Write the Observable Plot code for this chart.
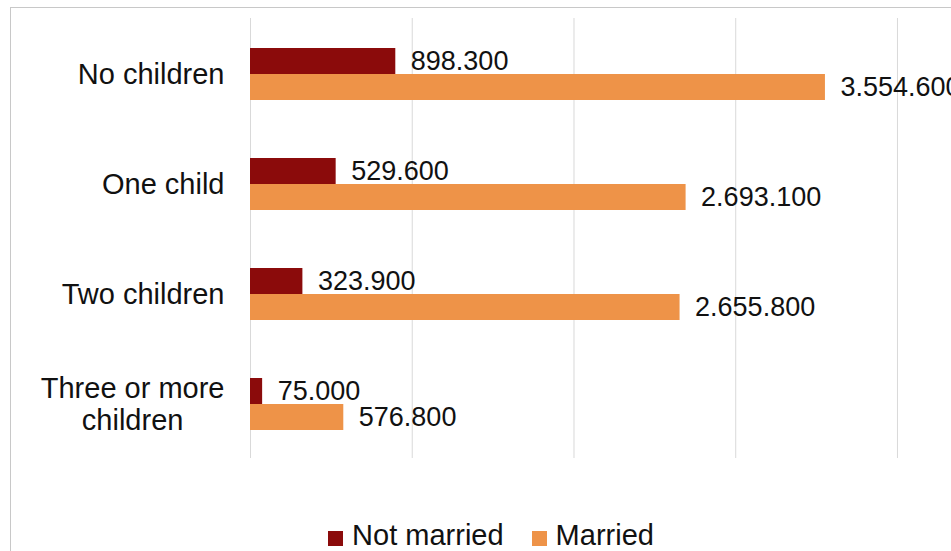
<!DOCTYPE html>
<html>
<head>
<meta charset="utf-8">
<script src="https://cdn.jsdelivr.net/npm/d3@7"></script>
<script src="https://cdn.jsdelivr.net/npm/@observablehq/plot@0.6"></script>
<style>
  html, body { margin: 0; padding: 0; background: #fff; }
  #wrap { position: relative; width: 951px; height: 551px; overflow: hidden; font-family: "Liberation Sans", Arial, sans-serif; }
  #frame { position: absolute; left: 10px; top: 7px; width: 1200px; height: 800px; border: 1px solid #c8c8c8; box-sizing: border-box; }
  #chart { position: absolute; left: 0; top: 0; }
  #legend { position: absolute; left: 0; top: 519px; width: 951px; height: 32px; padding-left: 31px; box-sizing: border-box;
            text-align: center; font-size: 29px; line-height: 32px; color: #111; white-space: nowrap; }
  .item { display: inline-block; margin: 0 14px; }
  .sw { display: inline-block; width: 15px; height: 15px; margin-right: 9px; vertical-align: -1px; }
</style>
</head>
<body>
<div id="wrap">
  <div id="frame"></div>
  <div id="chart"></div>
  <div id="legend"></div>
</div>
<script>
const categories = ["No children", "One child", "Two children", "Three or more\nchildren"];
const series = ["Not married", "Married"];
const notMarried = [898300, 529600, 323900, 75000];
const married = [3554600, 2693100, 2655800, 576800];
const colors = ["#8B0B0B", "#EE9348"];
const gridTicks = [0, 1000000, 2000000, 3000000, 4000000];

const rows = [];
categories.forEach((c, i) => {
  rows.push({category: c, status: series[0], value: notMarried[i]});
  rows.push({category: c, status: series[1], value: married[i]});
});

const fmt = v => d3.format(",")(v).replace(/,/g, ".");

const plot = Plot.plot({
  width: 951,
  height: 519,
  marginLeft: 250,
  marginRight: 0,
  marginTop: 17,
  marginBottom: 61,
  style: {fontFamily: "'Liberation Sans', Arial, sans-serif", fontSize: "27px", color: "#111", background: "transparent", overflow: "hidden"},
  x: {domain: [0, 4334000], axis: null},
  y: {domain: series, axis: null, paddingInner: 0, paddingOuter: 1.1, align: 0.52},
  fy: {domain: categories, padding: 0, label: null},
  color: {domain: series, range: colors},
  marks: [
    Plot.gridX(gridTicks, {stroke: "#d9d9d9", strokeOpacity: 1, strokeWidth: 1}),
    Plot.barX(rows, {fy: "category", y: "status", x: "value", fill: "status"}),
    Plot.text(rows, {fy: "category", y: "status", x: "value", text: d => fmt(d.value), textAnchor: "start", dx: 15, fill: "#111", fontSize: 27}),
    Plot.axisFy({anchor: "left", tickSize: 0, tickPadding: 26, fontSize: 29, lineHeight: 1.1, label: null, fill: "#111"})
  ]
});
document.getElementById("chart").appendChild(plot);

// center-align wrapped category labels
plot.querySelectorAll("[aria-label='fy-axis tick label'] text").forEach(t => {
  const spans = t.querySelectorAll("tspan");
  if (spans.length > 1) {
    let w = 0;
    spans.forEach(s => { w = Math.max(w, s.getComputedTextLength()); });
    t.setAttribute("text-anchor", "middle");
    const tr = t.getAttribute("transform") || "";
    t.setAttribute("transform", tr + ` translate(${-w / 2},0)`);
  }
});

const legend = document.getElementById("legend");
series.forEach((s, i) => {
  const item = document.createElement("span");
  item.className = "item";
  const sw = document.createElement("span");
  sw.className = "sw";
  sw.style.background = colors[i];
  item.appendChild(sw);
  item.appendChild(document.createTextNode(s));
  legend.appendChild(item);
});
</script>
</body>
</html>
